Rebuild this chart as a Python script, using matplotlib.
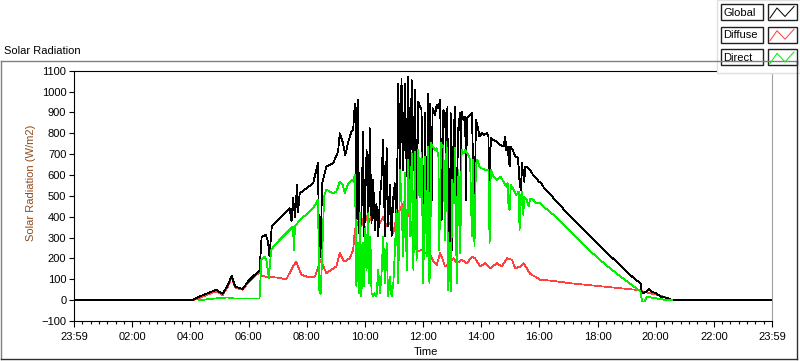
import numpy as np
import matplotlib.pyplot as plt
from matplotlib.ticker import MultipleLocator
from matplotlib.patches import Rectangle
from matplotlib.lines import Line2D

plt.rcParams['font.family'] = ['Liberation Sans', 'DejaVu Sans']
plt.rcParams['font.size'] = 8


# time in hours after midnight, radiation in W/m2
global_t = [0, 4.08, 4.31, 4.66, 4.89, 5.11, 5.29, 5.42, 5.54, 5.80, 5.98, 6.21, 6.38,
            6.45, 6.59, 6.67, 6.72, 6.80, 7.41, 7.48, 7.53, 7.60, 7.67, 7.70, 7.76, 8.22,
            8.39, 8.43, 8.48, 8.53, 8.68, 8.91, 9.08, 9.14, 9.25, 9.33, 9.43, 9.54, 9.60,
            9.655, 9.69, 9.71, 9.77, 9.80, 9.88, 9.94, 9.98, 10.06, 10.12, 10.17, 10.23,
            10.29, 10.34, 10.40, 10.46, 10.52, 10.57, 10.63, 10.69, 10.75, 10.80, 10.86,
            10.92, 10.98, 11.03, 11.09, 11.15, 11.21, 11.26, 11.32, 11.38, 11.44, 11.49,
            11.55, 11.61, 11.67, 11.72, 11.78, 11.84, 11.90, 11.95, 12.01, 12.07, 12.13,
            12.18, 12.22, 12.25, 12.30, 12.33, 12.36, 12.41, 12.47, 12.53, 12.59, 12.64,
            12.70, 12.76, 12.79, 12.84, 12.87, 12.93, 12.95, 12.99, 13.05, 13.10, 13.14,
            13.18, 13.22, 13.28, 13.30, 13.33, 13.39, 13.45, 13.48, 13.51, 13.56, 13.62,
            13.68, 13.74, 13.77, 13.82, 13.87, 13.94, 14.02, 14.10, 14.20, 14.25, 14.29,
            14.33, 14.43, 14.54, 14.66, 14.77, 14.83, 14.86, 14.91, 14.94, 14.98, 15.00,
            15.09, 15.17, 15.25, 15.29, 15.32, 15.37, 15.40, 15.48, 15.52, 15.57, 15.63,
            15.69, 15.75, 15.83, 15.90, 15.98, 16.03, 16.15, 16.49, 17.07, 17.64, 18.22,
            18.79, 19.25, 19.48, 19.52, 19.60, 19.77, 19.88, 20.00, 20.17, 20.40, 20.58, 24]
global_v = [0, 0, 17, 36, 49, 30, 73, 118, 65, 53, 89, 121, 142,
            302, 313, 281, 209, 353, 441, 377, 489, 400, 552, 420, 512, 560,
            656, 190, 230, 560, 640, 656, 712, 800, 752, 696, 760, 808, 816,
            943, 920, 305, 959, 321, 385, 808, 305, 720, 353, 824, 369,
            576, 337, 464, 305, 496, 576, 768, 305, 728, 353, 552,
            305, 496, 560, 337, 1039, 544, 1063, 624, 1039, 592, 1071,
            496, 1055, 624, 1007, 464, 951, 927, 911, 225, 896, 273,
            991, 225, 943, 480, 920, 911, 888, 935, 920, 959, 385,
            911, 896, 688, 927, 241, 273, 896, 241, 784, 927, 225,
            624, 848, 896, 576, 904, 864, 880, 480, 872, 880, 888,
            896, 576, 401, 864, 840, 784, 800, 792, 800, 784, 449,
            776, 768, 760, 744, 736, 784, 720, 736, 688, 640, 736,
            720, 688, 688, 640, 560, 528, 656, 568, 640, 640, 632,
            624, 608, 592, 584, 568, 568, 541, 489, 400, 321, 241,
            166, 105, 81, 36, 33, 53, 40, 34, 17, 10, 0, 0]

diffuse_t = [4.08, 4.31, 4.66, 4.89, 5.11, 5.29, 5.42, 5.54, 5.80, 5.98, 6.21, 6.38, 6.45,
             6.60, 7.00, 7.30, 7.53, 7.64, 7.82, 8.05, 8.28, 8.39, 8.45, 8.55, 8.68, 8.79,
             9.02, 9.14, 9.25, 9.31, 9.48, 9.60, 9.655, 9.77, 9.88, 10.00, 10.12, 10.23,
             10.40, 10.52, 10.63, 10.75, 10.86, 10.98, 11.09, 11.21, 11.32, 11.44, 11.55,
             11.67, 11.80, 11.95, 12.07, 12.24, 12.36, 12.47, 12.59, 12.64, 12.76, 12.93,
             13.05, 13.16, 13.33, 13.51, 13.68, 13.79, 13.97, 14.14, 14.31, 14.54, 14.71,
             14.89, 15.06, 15.17, 15.34, 15.46, 15.69, 15.86, 16.03, 16.49, 17.07, 17.64,
             18.22, 18.79, 19.37, 19.71, 20.06, 20.40, 20.58]
diffuse_v = [0, 10, 30, 42, 25, 65, 112, 60, 50, 82, 112, 135, 118,
             112, 108, 100, 161, 185, 121, 111, 113, 153, 193, 170, 129, 140,
             161, 225, 193, 185, 201, 241, 337, 377, 353, 417, 369, 401,
             409, 369, 401, 353, 369, 321, 401, 433, 464, 417, 401,
             273, 233, 241, 225, 220, 185, 169, 225, 209, 161, 185,
             201, 177, 193, 177, 209, 201, 161, 177, 153, 177, 161,
             201, 193, 153, 161, 177, 125, 113, 98, 92, 81, 73,
             65, 57, 49, 36, 25, 10, 0]

direct_t = [4.31, 5.00, 5.29, 5.50, 5.92, 6.38, 6.44, 6.55, 6.62, 6.70, 6.78, 6.83, 7.07,
            7.53, 7.56, 7.60, 7.76, 7.99, 8.22, 8.39, 8.43, 8.48, 8.53, 8.60, 8.68, 8.91,
            9.02, 9.14, 9.25, 9.31, 9.43, 9.55, 9.60, 9.655, 9.69, 9.71, 9.77, 9.80, 9.84,
            9.88, 9.94, 9.98, 10.02, 10.06, 10.12, 10.15, 10.19, 10.23, 10.29, 10.34, 10.40,
            10.46, 10.52, 10.57, 10.63, 10.69, 10.75, 10.80, 10.86, 10.92, 10.98, 11.03,
            11.09, 11.15, 11.21, 11.26, 11.32, 11.38, 11.44, 11.49, 11.55, 11.61, 11.67,
            11.72, 11.78, 11.84, 11.90, 11.95, 12.01, 12.07, 12.13, 12.18, 12.22, 12.25,
            12.28, 12.33, 12.41, 12.47, 12.53, 12.56, 12.62, 12.70, 12.76, 12.81, 12.87,
            12.93, 12.96, 13.01, 13.07, 13.10, 13.16, 13.22, 13.28, 13.33, 13.39, 13.45,
            13.51, 13.56, 13.62, 13.68, 13.71, 13.77, 13.82, 13.87, 13.94, 14.02, 14.14,
            14.25, 14.29, 14.33, 14.43, 14.54, 14.66, 14.77, 14.86, 14.91, 14.94, 14.98,
            15.02, 15.12, 15.20, 15.29, 15.32, 15.37, 15.40, 15.45, 15.48, 15.57, 15.63,
            15.69, 15.80, 15.90, 16.03, 16.15, 16.49, 17.07, 17.64, 18.22, 18.79, 19.25,
            19.48, 19.53, 19.62, 19.69, 19.94, 20.17, 20.40, 20.58]
direct_v = [0, 10, 13, 8, 8, 8, 193, 209, 190, 105, 241, 250, 289,
            353, 241, 353, 385, 410, 441, 480, 49, 30, 200, 500, 530, 512,
            520, 568, 550, 512, 560, 576, 568, 600, 337, 65, 273, 33, 417,
            17, 273, 65, 353, 145, 417, 81, 305, 33, 17, 33, 17,
            145, 33, 113, 305, 81, 273, 17, 113, 17, 81, 225,
            433, 81, 624, 464, 209, 608, 145, 672, 305, 704, 145,
            712, 193, 720, 496, 704, 81, 688, 209, 736, 81, 161,
            752, 736, 720, 728, 688, 241, 752, 736, 289, 760, 49,
            273, 41, 576, 464, 728, 81, 624, 225, 720, 704, 720,
            704, 696, 672, 305, 672, 257, 656, 672, 640, 632, 624,
            624, 273, 624, 592, 576, 592, 568, 544, 560, 449, 433,
            552, 528, 504, 520, 337, 496, 520, 409, 496, 480, 449,
            488, 480, 464, 465, 448, 409, 329, 249, 177, 113, 65,
            41, -7, -7, 17, 10, 5, 0, 0]

x_labels = ['23:59', '02:00', '04:00', '06:00', '08:00', '10:00', '12:00',
            '14:00', '16:00', '18:00', '20:00', '22:00', '23:59']
y_ticks = list(range(-100, 1101, 100))


W, H = 800, 361
fig = plt.figure(figsize=(W / 100, H / 100), dpi=100)
fig.patch.set_facecolor('white')

ax = fig.add_axes([74 / W, 40 / H, (772 - 74) / W, 250.3 / H])
ax.plot(diffuse_t, diffuse_v, color='#ff4040', lw=0.55, antialiased=False, zorder=2)
ax.plot(global_t, global_v, color='black', lw=0.55, antialiased=False, zorder=3)
ax.plot(direct_t, direct_v, color='#00ee00', lw=0.55, antialiased=False, zorder=4)

ax.set_xlim(0, 24)
ax.set_ylim(-100, 1100)
ax.set_xticks(np.arange(0, 25, 2))
ax.set_xticklabels(x_labels)
ax.xaxis.set_minor_locator(MultipleLocator(2 / 7))
ax.set_yticks(y_ticks)
ax.tick_params(axis='x', which='major', length=4.5, width=0.8, pad=3.5, colors='black')
ax.tick_params(axis='x', which='minor', length=2.5, width=0.8)
ax.tick_params(axis='y', length=3.5, width=0.8, pad=2)
for side in ['left', 'bottom', 'top']:
    ax.spines[side].set_linewidth(0.8)
    ax.spines[side].set_color('black')
ax.spines['right'].set_color('#a0a0a0')
ax.spines['right'].set_linewidth(0.8)

# overlay in pixel coordinates for frame, title and legend
ov = fig.add_axes([0, 0, 1, 1], zorder=10)
ov.set_xlim(0, W)
ov.set_ylim(H, 0)
ov.axis('off')
ov.patch.set_alpha(0)

ov.add_line(Line2D([1, 797], [61, 61], color='#808080', lw=1))
ov.add_line(Line2D([1, 1], [61, 359], color='#808080', lw=1))
ov.add_line(Line2D([1, 797], [359, 359], color='#303030', lw=1))
ov.add_line(Line2D([797, 797], [61, 359], color='#303030', lw=1))

ov.text(4, 54.5, 'Solar Radiation', ha='left', va='baseline')
ov.text(31, 183, 'Solar Radiation (W/m2)', rotation=90, ha='center', va='center',
        color='#8f4a1c')
ov.text(426, 352, 'Time', ha='center', va='center')

# legend panel
ov.add_patch(Rectangle((717, 0), 83, 73, facecolor='white', edgecolor='#e0e0e0', lw=1))
names = ['Global', 'Diffuse', 'Direct']
colors = ['black', '#ff4040', '#00ee00']
for i in range(3):
    top = 4 + i * 22.7
    ov.add_patch(Rectangle((721, top), 42, 16, facecolor='white', edgecolor='#202020', lw=1))
    ov.add_patch(Rectangle((768, top), 29, 16, facecolor='white', edgecolor='#202020', lw=1))
    ov.text(723, top + 8.5, names[i], ha='left', va='center')
    ov.add_line(Line2D([770, 777, 785, 794], [top + 14, top + 4, top + 12.5, top + 2.5],
                       color=colors[i], lw=0.72))

fig.savefig('out.png', dpi=100)
